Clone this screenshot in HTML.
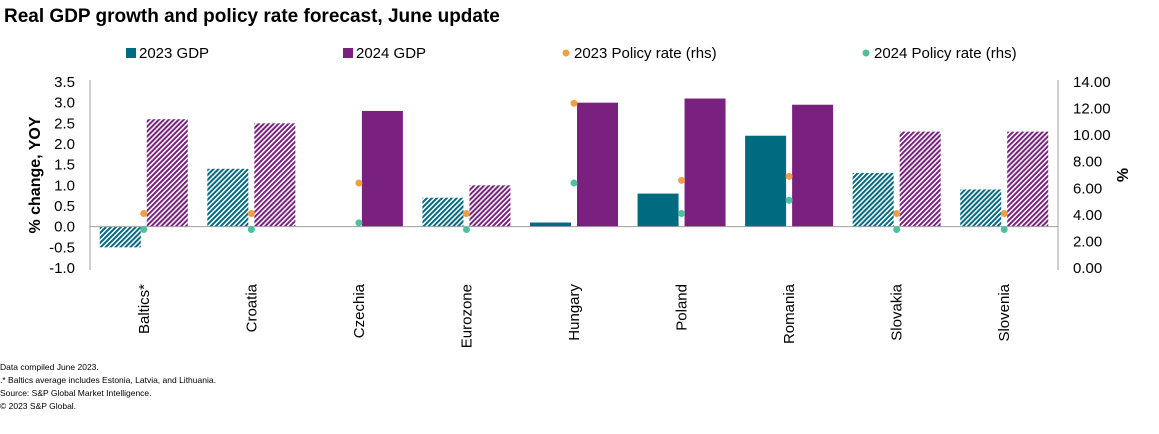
<!DOCTYPE html>
<html><head><meta charset="utf-8">
<style>
body{margin:0;background:#fff;font-family:"Liberation Sans",Arial,sans-serif;}
svg text{font-family:"Liberation Sans",Arial,sans-serif;}
</style></head>
<body>
<svg id="chart" width="1159" height="429" xmlns="http://www.w3.org/2000/svg">
<defs>
<pattern id="hatchTeal" patternUnits="userSpaceOnUse" width="3.5" height="3.5" patternTransform="rotate(45)">
<rect width="3.5" height="3.5" fill="#fff"/><rect width="2" height="3.5" fill="#006a80"/></pattern>
<pattern id="hatchPurple" patternUnits="userSpaceOnUse" width="3.5" height="3.5" patternTransform="rotate(45)">
<rect width="3.5" height="3.5" fill="#fff"/><rect width="2" height="3.5" fill="#7a2180"/></pattern>
</defs>
<text x="4" y="22" font-size="19" font-weight="bold" fill="#000">Real GDP growth and policy rate forecast, June update</text>
<g id="legend">
<rect x="126" y="48" width="10" height="10" fill="#006a80"/>
<text x="139" y="58" font-size="15">2023 GDP</text>
<rect x="343" y="48" width="10" height="10" fill="#7a2180"/>
<text x="356" y="58" font-size="15">2024 GDP</text>
<circle cx="566" cy="53" r="3.5" fill="#f0a040"/>
<text x="574" y="58" font-size="15">2023 Policy rate (rhs)</text>
<circle cx="866" cy="53" r="3.5" fill="#4fbfa0"/>
<text x="874" y="58" font-size="15">2024 Policy rate (rhs)</text>
</g>
<text transform="translate(40,175) rotate(-90)" text-anchor="middle" font-size="16" font-weight="bold">% change,  YOY</text>
<text transform="translate(1128,175) rotate(-90)" text-anchor="middle" font-size="16" font-weight="bold">%</text>
<g id="plot"></g>
<g font-size="8.5" fill="#000">
<text x="0" y="370">Data compiled June 2023.</text>
<text x="0" y="383">.* Baltics average includes Estonia, Latvia, and Lithuania.</text>
<text x="0" y="396">Source: S&amp;P Global Market Intelligence.</text>
<text x="0" y="409">© 2023 S&amp;P Global.</text>
</g>
</svg>
<script>
const categories=["Baltics*","Croatia","Czechia","Eurozone","Hungary","Poland","Romania","Slovakia","Slovenia"];
const gdp2023=[-0.5,1.4,0.0,0.7,0.1,0.8,2.2,1.3,0.9];
const gdp2024=[2.6,2.5,2.8,1.0,3.0,3.1,2.95,2.3,2.3];
const rate2023=[4.1,4.1,6.4,4.1,12.4,6.6,6.9,4.1,4.1];
const rate2024=[2.9,2.9,3.4,2.9,6.4,4.1,5.1,2.9,2.9];
const hatched=[true,true,false,true,false,false,false,true,true];
const leftTicks=["3.5","3.0","2.5","2.0","1.5","1.0","0.5","0.0","-0.5","-1.0"];
const rightTicks=["14.00","12.00","10.00","8.00","6.00","4.00","2.00","0.00"];

const NS="http://www.w3.org/2000/svg";
const plot=document.getElementById('plot');
const X0=90,X1=1058,YT=82,YB=268;
const yL=v=>YB-(v+1)/4.5*(YB-YT);
const yR=v=>YB-v/14*(YB-YT);
const band=(X1-X0)/categories.length;
const xc=i=>X0+band*(i+0.5);
function mk(tag,attrs){const e=document.createElementNS(NS,tag);for(const k in attrs)e.setAttribute(k,attrs[k]);plot.appendChild(e);return e;}

leftTicks.forEach(t=>{const v=parseFloat(t);
 const e=mk('text',{x:75,y:yL(v)+5,'text-anchor':'end','font-size':15});e.textContent=t;
 
 });
rightTicks.forEach(t=>{const v=parseFloat(t);
 const e=mk('text',{x:1073,y:yR(v)+5,'font-size':15});e.textContent=t;
 
 });

categories.forEach((c,i)=>{
 const cx=xc(i);
 const fa=hatched[i]?'url(#hatchTeal)':'#006a80';
 const fb=hatched[i]?'url(#hatchPurple)':'#7a2180';
 const a=gdp2023[i],b=gdp2024[i];
 if(a!==0){const r=mk('rect',{x:cx-44,y:Math.min(yL(a),yL(0)),width:41,height:Math.abs(yL(a)-yL(0)),fill:fa});
  
  }
 const r2=mk('rect',{x:cx+3,y:Math.min(yL(b),yL(0)),width:41,height:Math.abs(yL(b)-yL(0)),fill:fb});
 
 
 const t=mk('text',{transform:`translate(${cx+5},${284}) rotate(-90)`,'text-anchor':'end','font-size':15});t.textContent=c;
 
 
});
const ax=mk('line',{x1:X0,y1:yL(0),x2:X1,y2:yL(0),stroke:'#a0a0a0','stroke-width':1});


const la=mk('line',{x1:X0,y1:YT-2,x2:X0,y2:YB+2,stroke:'#a0a0a0'});


const ra=mk('line',{x1:X1,y1:YT-2,x2:X1,y2:YB+2,stroke:'#a0a0a0'});


categories.forEach((c,i)=>{
 const p1=mk('circle',{cx:xc(i),cy:yR(rate2023[i]),r:3.5,fill:'#f0a040'});
 
 
 const p2=mk('circle',{cx:xc(i),cy:yR(rate2024[i]),r:3.5,fill:'#4fbfa0'});
 
 
});
</script>
</body></html>
